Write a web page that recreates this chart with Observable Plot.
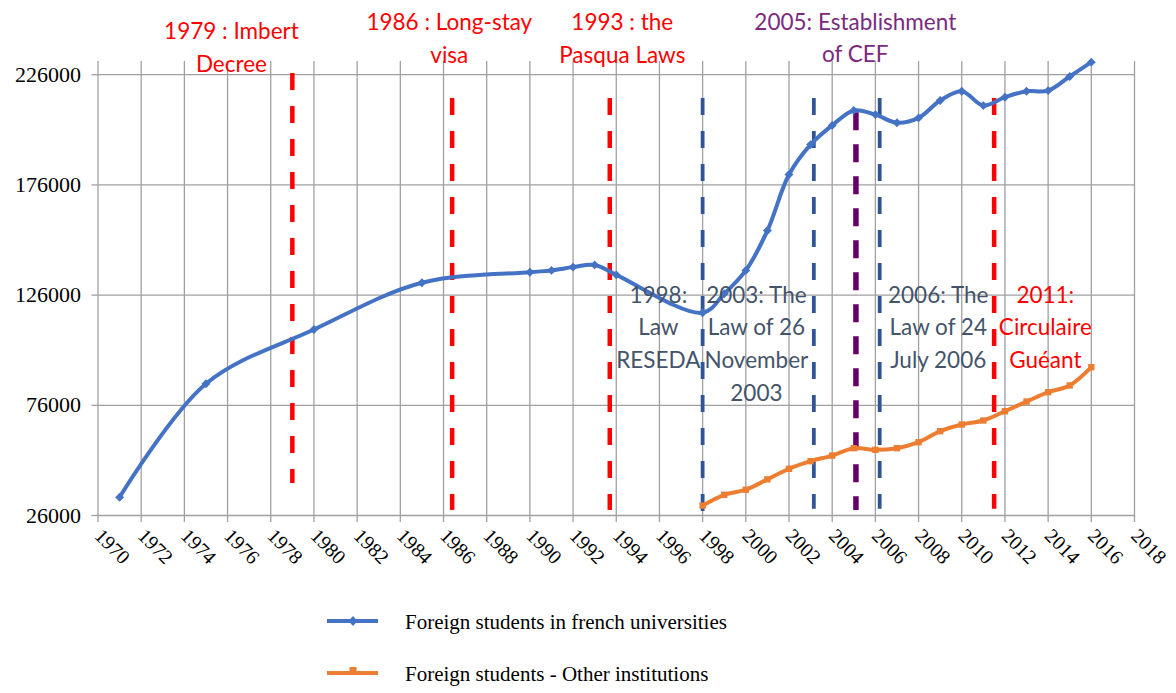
<!DOCTYPE html>
<html>
<head>
<meta charset="utf-8">
<script src="https://cdn.jsdelivr.net/npm/d3@7"></script>
<script src="https://cdn.jsdelivr.net/npm/@observablehq/plot@0.6"></script>
<style>
  html, body { margin: 0; padding: 0; background: #fff; }
  body { width: 1176px; height: 693px; overflow: hidden; position: relative; }
  #chart { position: absolute; left: 0; top: 0; }
  #legend { position: absolute; left: 0; top: 590px; width: 1176px; height: 103px; }
  #legend svg { display: block; }
</style>
</head>
<body>
<div id="chart"></div>
<div id="legend"></div>
<script>
// ---- Data ----
const univYears  = [1971, 1975, 1980, 1985, 1990, 1991, 1992, 1993, 1994, 1998, 1999, 2000, 2001, 2002, 2003, 2004, 2005, 2006, 2007, 2008, 2009, 2010, 2011, 2012, 2013, 2014, 2015, 2016];
const univValues = [34300, 85800, 110400, 131600, 136400, 137200, 138700, 139700, 135200, 118000, 126600, 137200, 155300, 180700, 194300, 203000, 209800, 207900, 204200, 206400, 214300, 218500, 212000, 215800, 218500, 218800, 225200, 231700];

const otherYears  = [1998, 1999, 2000, 2001, 2002, 2003, 2004, 2005, 2006, 2007, 2008, 2009, 2010, 2011, 2012, 2013, 2014, 2015, 2016];
const otherValues = [30500, 35400, 37700, 42400, 47200, 50650, 53200, 56550, 55800, 56550, 59250, 64250, 67300, 69100, 73300, 77700, 81950, 85000, 93300];

const xTicks = [1970, 1972, 1974, 1976, 1978, 1980, 1982, 1984, 1986, 1988, 1990, 1992, 1994, 1996, 1998, 2000, 2002, 2004, 2006, 2008, 2010, 2012, 2014, 2016, 2018];
const yTicks = [26000, 76000, 126000, 176000, 226000];

// Policy events (vertical dashed markers)
const eventYears  = [1979, 1986.4, 1993.7, 1998, 2003.15, 2005.1, 2006.2, 2011.5];
const eventTop    = [226500, 215200, 215200, 215200, 215200, 208800, 215200, 215200];
const eventBottom = [40500, 28300, 28300, 26000, 28800, 28300, 28800, 28800];
const eventKind   = ["red", "red", "red", "blue", "blue", "purple", "blue", "red"];

// Event labels
const labelTexts = [
  "1979 : Imbert\nDecree",
  "1986 : Long-stay\nvisa",
  "1993 : the\nPasqua Laws",
  "2005: Establishment\nof CEF",
  "1998:\nLaw\nRESEDA",
  "2003: The\nLaw of 26\nNovember\n2003",
  "2006: The\nLaw of 24\nJuly 2006",
  "2011:\nCirculaire\nGuéant"
];
const labelYears  = [1976.18, 1986.27, 1994.28, 2005.07, 1995.95, 2000.49, 2008.91, 2013.87];
const labelValues = [252600, 256600, 256600, 257000, 133000, 133000, 133000, 133000];
const labelKind   = ["red", "red", "red", "purple", "blue", "blue", "blue", "red"];

const seriesNames = ["Foreign students in french universities", "Foreign students - Other institutions"];

// ---- Tables ----
const univ  = univYears.map((y, i) => ({year: y, value: univValues[i]}));
const other = otherYears.map((y, i) => ({year: y, value: otherValues[i]}));
const events = eventYears.map((y, i) => ({year: y, top: eventTop[i], bottom: eventBottom[i], kind: eventKind[i]}));
const labels = labelTexts.map((t, i) => ({text: t, year: labelYears[i], value: labelValues[i], kind: labelKind[i]}));

const lineColor = {red: "#FF0000", blue: "#2F5597", purple: "#660066"};
const textColor = {red: "#FF0000", blue: "#44546A", purple: "#7A2A7E"};

const chart = Plot.plot({
  width: 1176,
  height: 590,
  marginTop: 61,
  marginBottom: 75,
  marginLeft: 97.5,
  marginRight: 42,
  style: {background: "#fff", color: "#000", overflow: "visible"},
  x: {domain: [1970, 2018]},
  y: {domain: [26000, 232000]},
  marks: [
    Plot.gridX(xTicks, {stroke: "#a0a0a0", strokeOpacity: 1, strokeWidth: 1.3}),
    Plot.gridY(yTicks, {stroke: "#a0a0a0", strokeOpacity: 1, strokeWidth: 1.3}),
    Plot.axisX(xTicks, {
      tickRotate: 45, tickSize: 7, tickPadding: 10, stroke: "#a0a0a0", strokeWidth: 1.3,
      tickFormat: d => String(d), fontSize: 20, fontFamily: "Liberation Serif", fill: "#000", label: null
    }),
    Plot.axisY(yTicks, {
      tickSize: 6, tickPadding: 11, stroke: "#a0a0a0", strokeWidth: 1.3,
      tickFormat: d => String(d), fontSize: 22, fontFamily: "Liberation Serif", fill: "#000", label: null
    }),
    // Policy event dashed lines
    ...["red", "blue", "purple"].map(k => Plot.ruleX(events.filter(e => e.kind === k), {
      x: "year", y1: "top", y2: "bottom",
      stroke: lineColor[k],
      strokeWidth: k === "purple" ? 5.5 : (k === "red" ? 4.5 : 3.8),
      strokeDasharray: k === "purple" ? "18,14" : "17,16"
    })),
    // Series lines
    Plot.line(other, {x: "year", y: "value", stroke: "#ED7D31", strokeWidth: 4, curve: "catmull-rom"}),
    Plot.dot(other, {x: "year", y: "value", symbol: "square", r: 3.6, fill: "#ED7D31", stroke: "none"}),
    Plot.line(univ, {x: "year", y: "value", stroke: "#4472C4", strokeWidth: 4, curve: "catmull-rom"}),
    Plot.dot(univ, {x: "year", y: "value", symbol: "diamond2", r: 4, fill: "#4472C4", stroke: "none"}),
    // Event labels
    Plot.text(labels, {
      x: "year", y: "value", text: "text",
      fill: d => textColor[d.kind],
      lineAnchor: "top", textAnchor: "middle",
      lineHeight: 1.45, fontSize: 22.5, fontFamily: "Lato"
    })
  ]
});
document.getElementById("chart").appendChild(chart);

// ---- Legend (HTML/SVG below the chart) ----
const ns = "http://www.w3.org/2000/svg";
const leg = document.createElementNS(ns, "svg");
leg.setAttribute("width", 1176);
leg.setAttribute("height", 103);
const items = [
  {name: seriesNames[0], color: "#4472C4", cy: 31, ty: 39, marker: "diamond"},
  {name: seriesNames[1], color: "#ED7D31", cy: 83, ty: 91, marker: "square"}
];
items.forEach(it => {
  const l = document.createElementNS(ns, "line");
  l.setAttribute("x1", 327); l.setAttribute("x2", 378);
  l.setAttribute("y1", it.cy); l.setAttribute("y2", it.cy);
  l.setAttribute("stroke", it.color); l.setAttribute("stroke-width", 4);
  leg.appendChild(l);
  const m = document.createElementNS(ns, "path");
  if (it.marker === "diamond") {
    m.setAttribute("d", `M353,${it.cy - 5}L357.5,${it.cy}L353,${it.cy + 5}L348.5,${it.cy}Z`);
  } else {
    m.setAttribute("d", `M349.5,${it.cy - 6}h7v6h-7Z`);
  }
  m.setAttribute("fill", it.color);
  leg.appendChild(m);
  const t = document.createElementNS(ns, "text");
  t.setAttribute("x", 405); t.setAttribute("y", it.ty);
  t.setAttribute("font-family", "Liberation Serif");
  t.setAttribute("font-size", 21);
  t.setAttribute("fill", "#000");
  t.textContent = it.name;
  leg.appendChild(t);
});
document.getElementById("legend").appendChild(leg);
</script>
</body>
</html>
